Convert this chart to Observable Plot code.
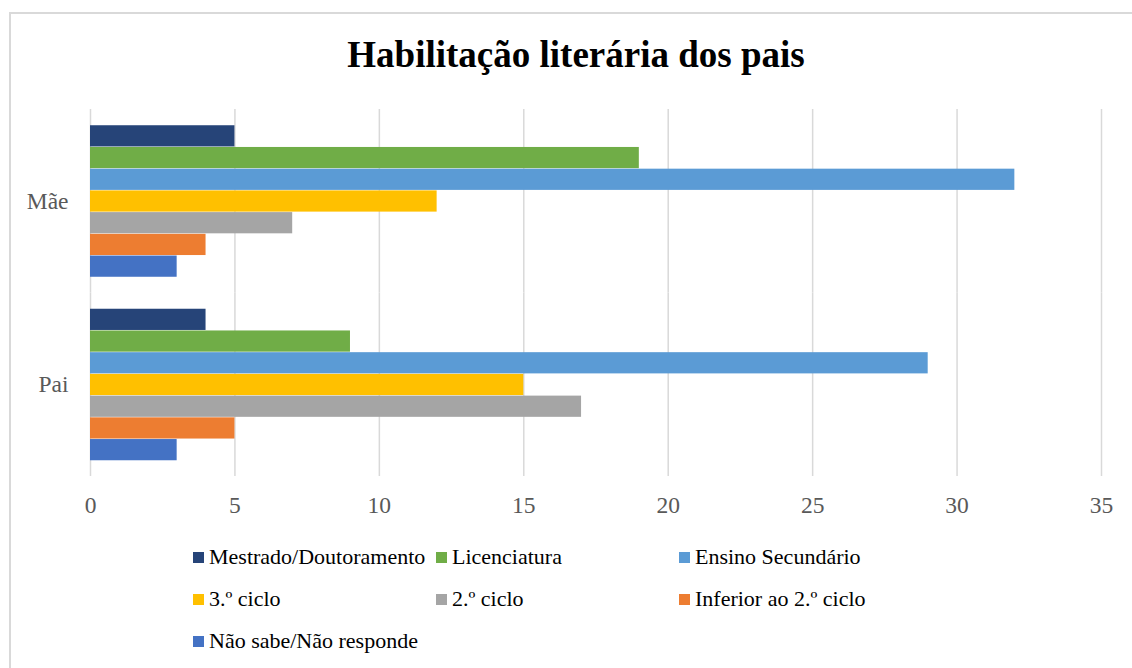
<!DOCTYPE html>
<html>
<head>
<meta charset="utf-8">
<script src="https://cdn.jsdelivr.net/npm/d3@7"></script>
<script src="https://cdn.jsdelivr.net/npm/@observablehq/plot@0.6"></script>
<style>
  html, body { margin: 0; padding: 0; background: #fff; }
  #wrap { position: relative; width: 1132px; height: 668px; overflow: hidden; font-family: 'Liberation Serif', 'Times New Roman', serif; }
  #frame { position: absolute; left: 9px; top: 12px; width: 1200px; height: 700px; border-left: 2px solid #d9d9d9; border-top: 2px solid #d9d9d9; }
  #title { position: absolute; left: 0; width: 1152px; top: 32px; text-align: center; font-weight: bold; font-size: 37px; line-height: 46px; color: #000; }
  #plot { position: absolute; left: 0; top: 100px; }
  #plot svg text { font-family: 'Liberation Serif', 'Times New Roman', serif; }
  .lg { position: absolute; display: flex; align-items: center; font-family: 'Liberation Serif', 'Times New Roman', serif; font-size: 22px; color: #000; white-space: nowrap; }
  .lg span.sw { display: inline-block; width: 11px; height: 11px; margin-right: 5px; }
</style>
</head>
<body>
<div id="wrap">
  <div id="frame"></div>
  <div id="title">Habilitação literária dos pais</div>
  <div id="plot"></div>
  <div id="legend"></div>
</div>
<script>
const categories = ["Mãe", "Pai"];
const series = ["Mestrado/Doutoramento", "Licenciatura", "Ensino Secundário", "3.º ciclo", "2.º ciclo", "Inferior ao 2.º ciclo", "Não sabe/Não responde"];
const valuesMae = [5, 19, 32, 12, 7, 4, 3];
const valuesPai = [4, 9, 29, 15, 17, 5, 3];
const colors = ["#264478", "#70AD47", "#5B9BD5", "#FFC000", "#A5A5A5", "#ED7D31", "#4472C4"];
const xTicks = [0, 5, 10, 15, 20, 25, 30, 35];

const data = [];
[valuesMae, valuesPai].forEach((vals, ci) => {
  vals.forEach((v, si) => data.push({cat: categories[ci], serie: series[si], value: v}));
});

const chart = Plot.plot({
  width: 1132,
  height: 440,
  marginTop: 9,
  marginBottom: 64,
  marginLeft: 90,
  marginRight: 31,
  style: { fontFamily: "'Liberation Serif', 'Times New Roman', serif", fontSize: "23.5px", color: "#595959", background: "transparent", overflow: "visible" },
  x: { domain: [0, 35], ticks: xTicks, tickSize: 0, tickPadding: 20, label: null },
  y: { domain: series, paddingInner: 0, paddingOuter: 0.725, round: false, axis: null },
  fy: { domain: categories, padding: 0, round: false, tickSize: 0, tickPadding: 22, label: null },
  color: { domain: series, range: colors },
  marks: [
    Plot.ruleX(xTicks, { stroke: "#d9d9d9", strokeWidth: 1.5 }),
    Plot.barX(data, { x: "value", y: "serie", fy: "cat", fill: "serie", insetTop: 0.5, insetBottom: 0 })
  ]
});
document.getElementById("plot").appendChild(chart);

const legend = document.getElementById("legend");
series.forEach((s, i) => {
  const col = i % 3, row = Math.floor(i / 3);
  const d = document.createElement("div");
  d.className = "lg";
  d.style.left = (193 + col * 243) + "px";
  d.style.top = (557 + row * 42 - 15) + "px";
  d.style.height = "30px";
  const sw = document.createElement("span");
  sw.className = "sw";
  sw.style.background = colors[i];
  d.appendChild(sw);
  d.appendChild(document.createTextNode(s));
  legend.appendChild(d);
});
</script>
</body>
</html>
